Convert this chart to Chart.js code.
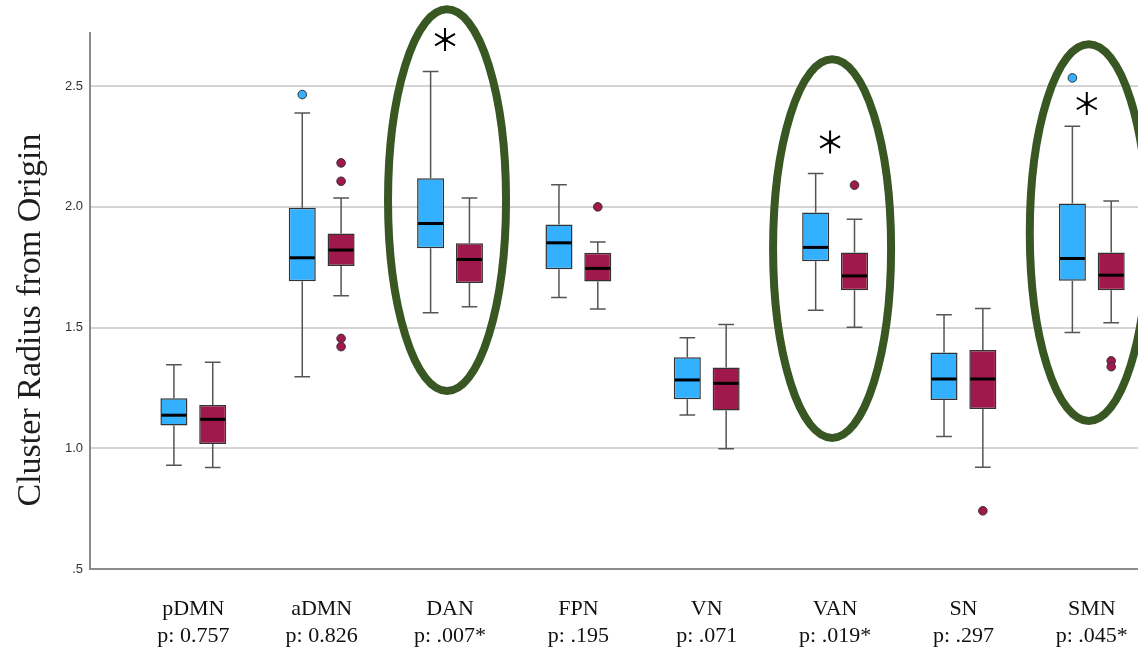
<!DOCTYPE html>
<html>
<head>
<meta charset="utf-8">
<script src="https://cdn.jsdelivr.net/npm/chart.js@4.4.0/dist/chart.umd.min.js"></script>
<style>
  html, body { margin: 0; padding: 0; background: #fff; overflow: hidden; }
  #wrap { position: relative; width: 1138px; height: 657px; }
</style>
</head>
<body>
<div id="wrap"><canvas id="radiusChart"></canvas></div>
<script>
// networks and their group-comparison p values
const networks = ["pDMN", "aDMN", "DAN", "FPN", "VN", "VAN", "SN", "SMN"];
const pLabels = ["p: 0.757", "p: 0.826", "p: .007*", "p: .195", "p: .071", "p: .019*", "p: .297", "p: .045*"];

// group 1 (blue) box plot statistics
const g1Min    = [0.930, 1.296, 1.561, 1.625, 1.138, 1.572, 1.049, 1.480];
const g1Q1     = [1.094, 1.692, 1.828, 1.741, 1.203, 1.775, 1.200, 1.694];
const g1Median = [1.137, 1.789, 1.931, 1.851, 1.283, 1.832, 1.287, 1.786];
const g1Q3     = [1.207, 1.996, 2.118, 1.927, 1.377, 1.977, 1.397, 2.014];
const g1Max    = [1.346, 2.389, 2.561, 2.091, 1.458, 2.138, 1.553, 2.334];
const g1Outliers = [[], [2.465], [], [], [], [], [], [2.534]];

// group 2 (red) box plot statistics
const g2Min    = [0.920, 1.632, 1.586, 1.577, 0.998, 1.501, 0.921, 1.520];
const g2Q1     = [1.018, 1.755, 1.685, 1.691, 1.156, 1.655, 1.163, 1.655];
const g2Median = [1.120, 1.821, 1.782, 1.745, 1.269, 1.714, 1.287, 1.717];
const g2Q3     = [1.179, 1.890, 1.849, 1.810, 1.335, 1.811, 1.407, 1.811];
const g2Max    = [1.356, 2.037, 2.037, 1.854, 1.513, 1.949, 1.579, 2.024];
const g2Outliers = [[], [2.182, 2.106, 1.455, 1.421], [], [2.000], [], [2.090], [0.741], [1.362, 1.338]];

const yTickValues = [0.5, 1.0, 1.5, 2.0, 2.5];

// significant networks: asterisk height and ring extent (in axis units)
const sigNetworks = ["DAN", "VAN", "SMN"];
const sigStarValues = [2.693, 2.269, 2.428];
const sigRingTop = [2.818, 2.611, 2.673];
const sigRingBottom = [1.237, 1.043, 1.113];

const yTitle = "Cluster Radius from Origin";

const BLUE = "#33b0ff";
const RED = "#a0184c";
const EDGE = "#333333";

const groups = [
  { min: g1Min, q1: g1Q1, med: g1Median, q3: g1Q3, max: g1Max, out: g1Outliers, color: BLUE },
  { min: g2Min, q1: g2Q1, med: g2Median, q3: g2Q3, max: g2Max, out: g2Outliers, color: RED }
];

function boxes(g) {
  return g.q1.map((v, i) => ({ x: i, y: [v, g.q3[i]] }));
}

// whiskers behind the boxes, medians and outliers on top
const boxPlot = {
  id: "boxPlot",
  beforeDatasetsDraw(chart) {
    const ctx = chart.ctx, y = chart.scales.y;
    groups.forEach((g, d) => {
      chart.getDatasetMeta(d).data.forEach((bar, i) => {
        const { x, width } = bar.getProps(["x", "width"], true);
        const cap = width * 0.29;
        const yMax = y.getPixelForValue(g.max[i]);
        const yMin = y.getPixelForValue(g.min[i]);
        ctx.save();
        ctx.strokeStyle = "#555";
        ctx.lineWidth = 1.5;
        ctx.beginPath();
        ctx.moveTo(x, yMax); ctx.lineTo(x, y.getPixelForValue(g.q3[i]));
        ctx.moveTo(x, y.getPixelForValue(g.q1[i])); ctx.lineTo(x, yMin);
        ctx.moveTo(x - cap, yMax); ctx.lineTo(x + cap, yMax);
        ctx.moveTo(x - cap, yMin); ctx.lineTo(x + cap, yMin);
        ctx.stroke();
        ctx.restore();
      });
    });
  },
  afterDatasetsDraw(chart) {
    const ctx = chart.ctx, y = chart.scales.y;
    groups.forEach((g, d) => {
      chart.getDatasetMeta(d).data.forEach((bar, i) => {
        const { x, width } = bar.getProps(["x", "width"], true);
        const ym = y.getPixelForValue(g.med[i]);
        ctx.save();
        ctx.strokeStyle = "#000";
        ctx.lineWidth = 3;
        ctx.beginPath();
        ctx.moveTo(x - width / 2 + 1, ym);
        ctx.lineTo(x + width / 2 - 1, ym);
        ctx.stroke();
        g.out[i].forEach(v => {
          ctx.beginPath();
          ctx.arc(x, y.getPixelForValue(v), 4.3, 0, Math.PI * 2);
          ctx.fillStyle = g.color;
          ctx.fill();
          ctx.lineWidth = 1;
          ctx.strokeStyle = EDGE;
          ctx.stroke();
        });
        ctx.restore();
      });
    });
  },
  afterDraw(chart) {
    const ctx = chart.ctx, x = chart.scales.x, y = chart.scales.y;
    const area = chart.chartArea;

    // rings and asterisks around significant networks
    sigNetworks.forEach((name, k) => {
      const cx = x.getPixelForValue(networks.indexOf(name));
      const top = y.getPixelForValue(sigRingTop[k]);
      const bottom = y.getPixelForValue(sigRingBottom[k]);
      ctx.save();
      ctx.strokeStyle = "#385723";
      ctx.lineWidth = 8;
      ctx.beginPath();
      ctx.ellipse(cx - 3, (top + bottom) / 2, 59, (bottom - top) / 2, 0, 0, Math.PI * 2);
      ctx.stroke();

      const sy = y.getPixelForValue(sigStarValues[k]);
      const sx = cx - 5;
      ctx.strokeStyle = "#000";
      ctx.lineWidth = 2;
      ctx.beginPath();
      for (let a = 0; a < 3; a++) {
        const ang = Math.PI / 2 + a * Math.PI / 3;
        ctx.moveTo(sx - Math.cos(ang) * 11.5, sy - Math.sin(ang) * 11.5);
        ctx.lineTo(sx + Math.cos(ang) * 11.5, sy + Math.sin(ang) * 11.5);
      }
      ctx.stroke();
      ctx.beginPath();
      ctx.arc(sx, sy, 2.6, 0, Math.PI * 2);
      ctx.fillStyle = "#000";
      ctx.fill();
      ctx.restore();
    });

    // y axis title
    ctx.save();
    ctx.translate(area.left - 59, (area.top + area.bottom) / 2 + 19);
    ctx.rotate(-Math.PI / 2);
    ctx.font = '34px "Liberation Serif"';
    ctx.fillStyle = "#1e1e1e";
    ctx.textAlign = "center";
    ctx.textBaseline = "middle";
    ctx.fillText(yTitle, 0, 0);
    ctx.restore();
  }
};

document.addEventListener("DOMContentLoaded", function() {
  const ctx = document.getElementById("radiusChart").getContext("2d");
  new Chart(ctx, {
    type: "bar",
    data: {
      datasets: groups.map(g => ({
        data: boxes(g),
        backgroundColor: g.color,
        borderColor: EDGE,
        borderWidth: 1.5,
        borderSkipped: false,
        categoryPercentage: 0.605,
        barPercentage: 0.696
      }))
    },
    options: {
      responsive: true,
      maintainAspectRatio: false,
      animation: false,
      layout: { padding: { top: 33, right: 0, bottom: 0, left: 0 } },
      plugins: {
        legend: { display: false },
        tooltip: { enabled: false }
      },
      scales: {
        x: {
          type: "linear",
          offset: false,
          min: -0.805,
          max: 7.36,
          afterBuildTicks: s => { s.ticks = networks.map((n, i) => ({ value: i })); },
          afterFit: s => { s.height = 88; s.paddingLeft = 0; s.paddingRight = 0; },
          grid: { display: false, drawTicks: false, offset: false },
          border: { display: true, color: "#8c8c8c", width: 2 },
          ticks: {
            autoSkip: false,
            maxRotation: 0,
            minRotation: 0,
            padding: 27,
            color: "#111",
            font: { family: "Liberation Serif", size: 22, lineHeight: 1.23 },
            callback: v => [networks[v], pLabels[v]]
          }
        },
        y: {
          min: 0.5,
          max: 2.72,
          afterBuildTicks: s => { s.ticks = yTickValues.map(v => ({ value: v })); },
          afterFit: s => { s.width = 90; },
          grid: { color: "#d4d4d4", lineWidth: 2, drawTicks: false },
          border: { display: true, color: "#8c8c8c", width: 2 },
          ticks: {
            padding: 7,
            color: "#333",
            font: { family: "Liberation Sans", size: 13 },
            callback: v => v.toFixed(1).replace(/^0/, "")
          }
        }
      }
    },
    plugins: [boxPlot]
  });
});
</script>
</body>
</html>
